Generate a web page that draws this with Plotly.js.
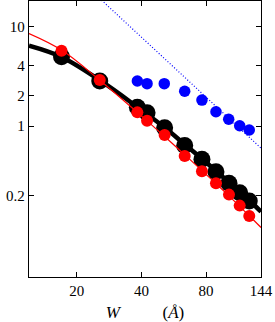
<!DOCTYPE html>
<html>
<head>
<meta charset="utf-8">
<script src="https://cdn.plot.ly/plotly-3.0.1.min.js"></script>
<style>html,body{margin:0;padding:0;background:#fff;}#chart{width:275px;height:322px;}</style>
</head>
<body>
<div id="chart"></div>
<script>
// Data
const blackX = [17.0, 25.6, 38.3, 42.5, 51.3, 63.6, 76.5, 88.9, 102.2, 114.6, 127.0];
const blackY = [4.96, 2.83, 1.54, 1.36, 0.96, 0.637, 0.464, 0.348, 0.266, 0.214, 0.177];

const redX = [17.0, 25.6, 38.3, 42.5, 51.3, 63.6, 76.5, 88.9, 102.2, 114.6, 127.0];
const redY = [5.69, 2.89, 1.37, 1.13, 0.812, 0.50, 0.351, 0.266, 0.205, 0.159, 0.125];

const blueX = [38.3, 42.5, 51.1, 63.6, 76.5, 88.9, 101.9, 114.6, 127.0];
const blueY = [2.83, 2.66, 2.66, 2.23, 1.82, 1.39, 1.17, 1.007, 0.912];

// fitted curves as drawn in the picture
const blackFitX = [12, 17, 25.6, 38.3, 51.3, 63.6, 76.5, 88.9, 102.2, 114.6, 127, 144];
const blackFitY = [6.4, 4.93, 2.88, 1.55, 0.965, 0.655, 0.47, 0.355, 0.272, 0.219, 0.18, 0.138];

const redFitX = [12, 17, 25.6, 38.3, 51.3, 63.6, 76.5, 88.9, 102.2, 114.6, 127, 144];
const redFitY = [8.47, 5.78, 2.88, 1.37, 0.785, 0.516, 0.357, 0.264, 0.199, 0.156, 0.126, 0.096];

const blueFitX = [12, 144];
const blueFitY = [86.5, 0.60];

const xTicks = [20, 40, 80, 144];
const yTicks = [0.2, 1, 2, 4, 10];

const serif = "Liberation Serif, DejaVu Serif, serif";

const traces = [
  {x: blackFitX, y: blackFitY, mode: 'lines', line: {color: '#000', width: 4.5, shape: 'spline'}, hoverinfo: 'skip'},
  {x: blackX, y: blackY, mode: 'markers', marker: {color: '#000', size: 17}},
  {x: redFitX, y: redFitY, mode: 'lines', line: {color: '#ff0000', width: 1.2, shape: 'spline'}, hoverinfo: 'skip'},
  {x: redX, y: redY, mode: 'markers', marker: {color: '#ff0000', size: 12}},
  {x: blueFitX, y: blueFitY, mode: 'lines', line: {color: '#0000ff', width: 1.2, dash: '1px,2px'}, hoverinfo: 'skip'},
  {x: blueX, y: blueY, mode: 'markers', marker: {color: '#0000ff', size: 11.5}}
];

const layout = {
  width: 275, height: 322,
  margin: {l: 29, r: 14, t: 1, b: 45},
  showlegend: false,
  paper_bgcolor: '#fff', plot_bgcolor: '#fff',
  font: {family: serif, size: 14, color: '#000'},
  xaxis: {
    type: 'log', range: [Math.log10(12), Math.log10(144)],
    tickvals: xTicks, ticktext: xTicks.map(String),
    ticks: 'inside', ticklen: 5, tickcolor: '#000', tickwidth: 1,
    showline: true, linecolor: '#000', linewidth: 1.2, mirror: 'ticks',
    showgrid: false, zeroline: false,
    tickfont: {family: serif, size: 15},
    title: {text: '<i>W</i>\u00A0\u00A0\u00A0\u00A0\u00A0\u00A0\u00A0\u00A0\u00A0\u00A0(<i>Å</i>)', font: {family: serif, size: 17}, standoff: 9}
  },
  yaxis: {
    type: 'log', range: [-1.5145, 1.2538],
    tickvals: yTicks, ticktext: yTicks.map(String),
    ticks: 'inside', ticklen: 5, tickcolor: '#000', tickwidth: 1,
    showline: true, linecolor: '#000', linewidth: 1.2, mirror: 'ticks',
    showgrid: false, zeroline: false,
    tickfont: {family: serif, size: 15}
  }
};

Plotly.newPlot('chart', traces, layout, {staticPlot: true, displayModeBar: false});
</script>
</body>
</html>
